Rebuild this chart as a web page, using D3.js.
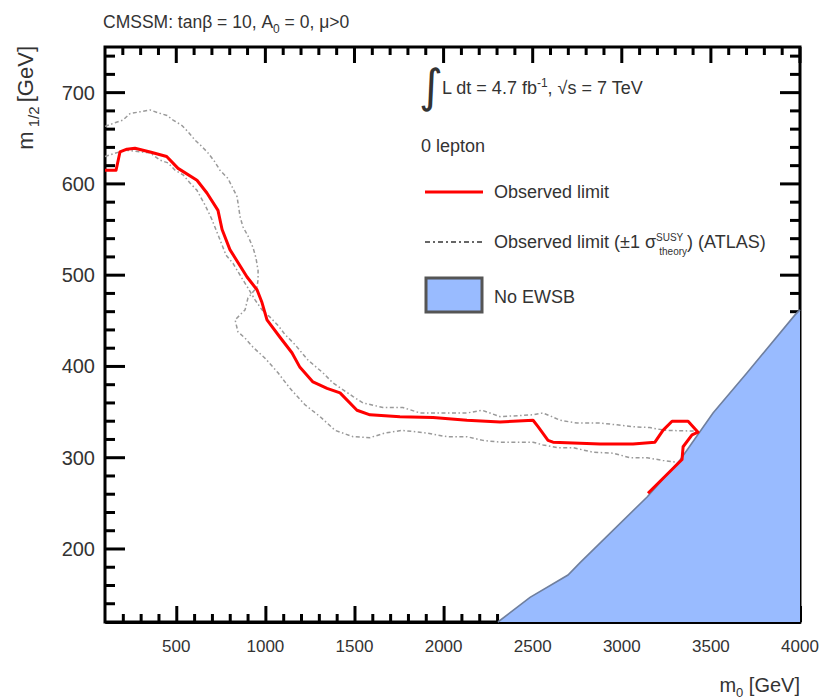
<!DOCTYPE html>
<html>
<head>
<meta charset="utf-8">
<script src="https://cdn.jsdelivr.net/npm/d3@7"></script>
<style>
  body { margin: 0; background: #fff; }
  text { font-family: "Liberation Sans", Arial, Helvetica, sans-serif; fill: #333; }
</style>
</head>
<body>
<svg id="chart" width="825" height="700"></svg>
<script>
// ---- data ----------------------------------------------------------------
const xTickValues = [500, 1000, 1500, 2000, 2500, 3000, 3500, 4000];
const yTickValues = [200, 300, 400, 500, 600, 700];

// observed 95% CL limit contour (m0, m1/2) in GeV
const obsM0  = [100, 162, 184, 223, 268, 353, 446, 510, 616, 672, 734, 757, 801, 897, 953, 981, 1009, 1082, 1149, 1194, 1267, 1346, 1419, 1514, 1587, 1755, 1941, 2131, 2317, 2390, 2502, 2530, 2586, 2614, 2878, 3063, 3186, 3231, 3282, 3372, 3428, 3394, 3344, 3338, 3147];
const obsM12 = [615, 615, 635, 638, 639, 635, 630, 617, 604, 590, 571, 550, 528, 498, 484, 470, 451, 432, 415, 399, 383, 376, 371, 352, 347, 345, 344, 341, 339, 340, 341, 334, 319, 317, 315, 315, 317, 330, 340, 340, 328, 325, 312, 298, 261];

// observed limit shifted by the theory uncertainty (first variation)
const sigAM0  = [100, 156, 201, 240, 296, 353, 397, 448, 482, 532, 566, 605, 633, 678, 717, 745, 790, 818, 841, 858, 874, 902, 931, 947, 959, 959, 953, 902, 886, 830, 846, 886, 931, 998, 1071, 1138, 1222, 1307, 1391, 1492, 1587, 1671, 1767, 1907, 2019, 2131, 2221, 2317, 2502, 2558, 2637, 2726, 2839, 2951, 3046, 3142, 3231, 3310];
const sigAM12 = [663, 667, 670, 677, 679, 681, 678, 675, 670, 664, 657, 648, 643, 634, 624, 615, 606, 595, 586, 564, 553, 543, 530, 519, 505, 495, 487, 475, 462, 451, 438, 431, 421, 409, 393, 376, 358, 345, 330, 323, 322, 327, 330, 327, 323, 323, 319, 317, 317, 314, 311, 311, 306, 305, 300, 300, 297, 295];

// observed limit shifted by the theory uncertainty (second variation)
const sigBM0  = [100, 212, 353, 409, 454, 493, 538, 577, 616, 661, 700, 745, 779, 818, 858, 902, 942, 981, 1026, 1071, 1110, 1166, 1239, 1323, 1379, 1492, 1548, 1660, 1772, 1868, 1980, 2131, 2216, 2317, 2502, 2558, 2608, 2653, 2749, 2878, 2973, 3063, 3158, 3242, 3439];
const sigBM12 = [630, 637, 634, 626, 623, 615, 610, 601, 593, 577, 561, 539, 522, 513, 500, 486, 473, 462, 454, 445, 435, 424, 407, 393, 382, 367, 360, 355, 355, 349, 349, 349, 352, 345, 347, 349, 345, 341, 338, 338, 336, 334, 333, 330, 329];

// boundary of the region without electroweak symmetry breaking
const ewsbM0  = [2305, 2485, 2698, 2766, 3142, 3327, 3512, 3703, 3972, 4000];
const ewsbM12 = [120, 147, 171.5, 185, 257, 297.5, 349, 393, 456.5, 462];

// ---- layout ----------------------------------------------------------------
const svg = d3.select("#chart");
const L = 105, R = 800, T = 47, B = 622;
const x = d3.scaleLinear().domain([100, 4000]).range([L, R]);
const y = d3.scaleLinear().domain([120, 750]).range([B, T]);

const zip = (a, b) => a.map((v, i) => [v, b[i]]);
const line = d3.line().x(d => x(d[0])).y(d => y(d[1]));

const xMinor = d3.range(200, 4000, 100).filter(v => !xTickValues.includes(v));
const yMinor = d3.range(140, 750, 20).filter(v => !yTickValues.includes(v));

// ---- frame -----------------------------------------------------------------
svg.append("rect").attr("x", L).attr("y", T).attr("width", R - L).attr("height", B - T)
  .attr("fill", "none").attr("stroke", "#000").attr("stroke-width", 3);

// left axis: tick lines pointing inward
svg.append("g").selectAll("line").data(yMinor).join("line")
  .attr("x1", L).attr("x2", L + 10).attr("y1", d => y(d)).attr("y2", d => y(d))
  .attr("stroke", "#000").attr("stroke-width", 3);
svg.append("g").selectAll("line").data(yTickValues).join("line")
  .attr("x1", L).attr("x2", L + 20).attr("y1", d => y(d)).attr("y2", d => y(d))
  .attr("stroke", "#000").attr("stroke-width", 3);

// bottom axis through d3.axisBottom, ticks pointing inward
svg.append("g").attr("transform", `translate(0,${B})`)
  .call(d3.axisBottom(x).tickValues(xMinor).tickSizeInner(-8).tickSizeOuter(0).tickFormat(() => ""))
  .attr("stroke-width", 3);
svg.append("g").attr("transform", `translate(0,${B})`)
  .call(d3.axisBottom(x).tickValues(xTickValues).tickSizeInner(-16).tickSizeOuter(0).tickFormat(() => ""))
  .attr("stroke-width", 3);

// right axis: small filled bars
svg.append("g").selectAll("rect").data(yMinor).join("rect")
  .attr("x", R - 10).attr("y", d => y(d) - 1.5).attr("width", 10).attr("height", 3).attr("fill", "#000");
svg.append("g").selectAll("rect").data(yTickValues).join("rect")
  .attr("x", R - 20).attr("y", d => y(d) - 1.5).attr("width", 20).attr("height", 3).attr("fill", "#000");

// top axis: one path per tick set
svg.append("path")
  .attr("d", xMinor.map(v => `M${x(v)},${T}v8`).join(""))
  .attr("stroke", "#000").attr("stroke-width", 3).attr("fill", "none");
svg.append("path")
  .attr("d", xTickValues.map(v => `M${x(v)},${T}v16`).join(""))
  .attr("stroke", "#000").attr("stroke-width", 3).attr("fill", "none");

// ---- plot content ----------------------------------------------------------
// No EWSB region
const ewsb = zip(ewsbM0, ewsbM12);
svg.append("path")
  .attr("d", line([...ewsb, [4000, 120]]) + "Z")
  .attr("fill", "#99bbff").attr("stroke", "none");
svg.append("path")
  .attr("d", line(ewsb))
  .attr("fill", "none").attr("stroke", "#6f7f9e").attr("stroke-width", 1.6);

// theory-uncertainty variations (dash-dot)
[zip(sigAM0, sigAM12), zip(sigBM0, sigBM12)].forEach(pts => {
  svg.append("path").attr("d", line(pts))
    .attr("fill", "none").attr("stroke", "#9a9a9a").attr("stroke-width", 1.5)
    .attr("stroke-dasharray", "4,2.5,1.5,2.5");
});

// observed limit
svg.append("path").attr("d", line(zip(obsM0, obsM12)))
  .attr("fill", "none").attr("stroke", "#ff0000").attr("stroke-width", 3)
  .attr("stroke-linejoin", "round");

// ---- tick labels -----------------------------------------------------------
svg.append("g").selectAll("text").data(xTickValues).join("text")
  .attr("x", d => x(d)).attr("y", 652).attr("text-anchor", "middle")
  .style("font-size", "17px")
  .text(d => d);
svg.append("g").selectAll("text").data(yTickValues).join("text")
  .attr("x", 95).attr("y", d => y(d) + 7).attr("text-anchor", "end")
  .style("font-size", "20px")
  .text(d => d);

// ---- axis titles -----------------------------------------------------------
const xt = svg.append("text").attr("x", R).attr("y", 692).attr("text-anchor", "end")
  .style("font-size", "20px");
xt.append("tspan").text("m");
xt.append("tspan").attr("dy", 5).style("font-size", "13px").text("0");
xt.append("tspan").attr("dy", -5).text(" [GeV]");

const yt = svg.append("text").attr("transform", "translate(33,46) rotate(-90)")
  .attr("text-anchor", "end").style("font-size", "22px");
yt.append("tspan").text("m");
yt.append("tspan").attr("dy", 6).style("font-size", "15px").text(" 1/2 ");
yt.append("tspan").attr("dy", -6).text(" [GeV]");

// ---- title -----------------------------------------------------------------
const tt = svg.append("text").attr("x", 103).attr("y", 28).style("font-size", "17.5px");
tt.append("tspan").text("CMSSM: tanβ = 10, A");
tt.append("tspan").attr("dy", 5).style("font-size", "12px").text("0");
tt.append("tspan").attr("dy", -5).text(" = 0, μ>0");

// ---- legend ----------------------------------------------------------------
const lg = svg.append("g").style("font-size", "18px");
lg.append("text").attr("x", 419).attr("y", 102).style("font-size", "46px")
  .style("font-family", "'DejaVu Sans', sans-serif").text("∫");
const lum = lg.append("text").attr("x", 442).attr("y", 94);
lum.append("tspan").text("L dt = 4.7 fb");
lum.append("tspan").attr("dy", -7).style("font-size", "12px").text("-1");
lum.append("tspan").attr("dy", 7).text(",  √s = 7 TeV");

lg.append("text").attr("x", 421).attr("y", 152).text("0 lepton");

lg.append("line").attr("x1", 425).attr("x2", 483).attr("y1", 192).attr("y2", 192)
  .attr("stroke", "#ff0000").attr("stroke-width", 3);
lg.append("text").attr("x", 494).attr("y", 198).text("Observed limit");

lg.append("line").attr("x1", 425).attr("x2", 483).attr("y1", 242).attr("y2", 242)
  .attr("stroke", "#666").attr("stroke-width", 2).attr("stroke-dasharray", "5,3,2,3");
const bl = lg.append("text").attr("x", 494).attr("y", 248);
bl.append("tspan").text("Observed limit (±1 σ");
bl.append("tspan").attr("dy", -7).style("font-size", "10px").text("SUSY");
bl.append("tspan").attr("dx", -24).attr("dy", 14).style("font-size", "10px").text("theory");
bl.append("tspan").attr("dy", -7).text(") (ATLAS)");

lg.append("rect").attr("x", 426).attr("y", 278).attr("width", 56).attr("height", 34)
  .attr("fill", "#99bbff").attr("stroke", "#555").attr("stroke-width", 3);
lg.append("text").attr("x", 494).attr("y", 303).text("No EWSB");
</script>
</body>
</html>
